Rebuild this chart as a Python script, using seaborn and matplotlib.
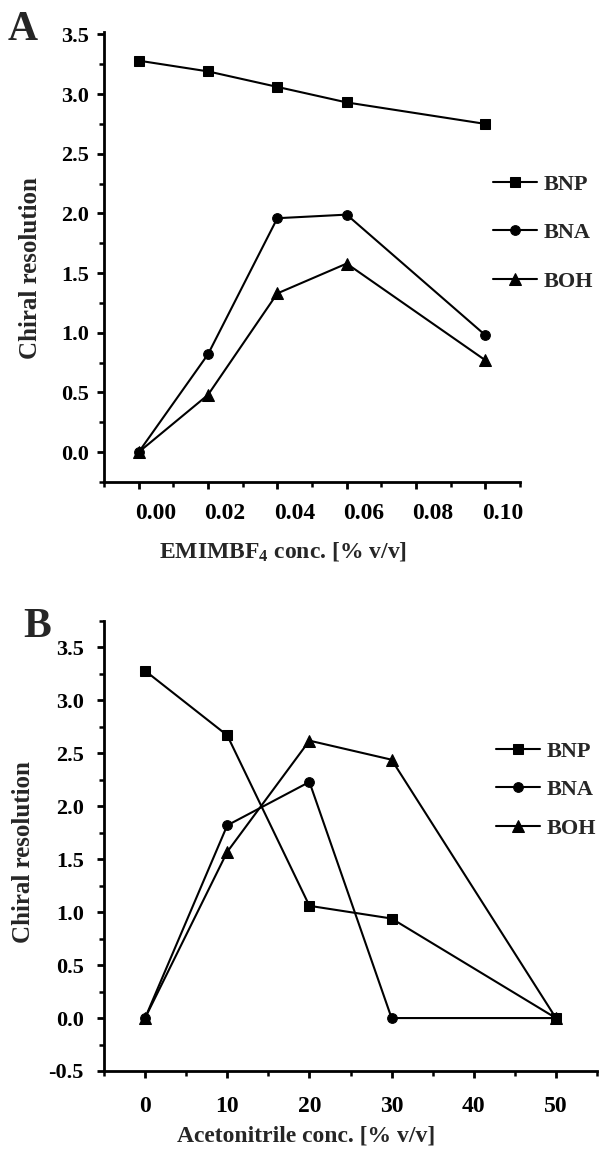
import matplotlib
matplotlib.use("Agg")
import matplotlib.pyplot as plt
import matplotlib.transforms as mtransforms
from matplotlib.ticker import MultipleLocator, FormatStrFormatter
import seaborn as sns
import pandas as pd

# ---- data ----
compounds = ["BNP", "BNA", "BOH"]
emim_conc = [0.00, 0.02, 0.04, 0.06, 0.10]
a_bnp = [3.28, 3.19, 3.06, 2.93, 2.75]
a_bna = [0.00, 0.82, 1.96, 1.99, 0.98]
a_boh = [0.00, 0.48, 1.33, 1.58, 0.77]

acn_conc = [0, 10, 20, 30, 50]
b_bnp = [3.28, 2.67, 1.06, 0.94, 0.00]
b_bna = [0.00, 1.82, 2.23, 0.00, 0.00]
b_boh = [0.00, 1.57, 2.62, 2.44, 0.00]

a_xticks = [0.00, 0.02, 0.04, 0.06, 0.08, 0.10]
b_xticks = [0, 10, 20, 30, 40, 50]

def long_df(x, series):
    rows = []
    for name, ys in zip(compounds, series):
        for xv, yv in zip(x, ys):
            rows.append({"x": xv, "y": yv, "compound": name})
    return pd.DataFrame(rows)

dfA = long_df(emim_conc, [a_bnp, a_bna, a_boh])
dfB = long_df(acn_conc, [b_bnp, b_bna, b_boh])

sns.set_style("ticks")
plt.rcParams["font.family"] = ["Liberation Serif", "DejaVu Serif"]
plt.rcParams["font.weight"] = "bold"
plt.rcParams["axes.labelweight"] = "bold"
plt.rcParams["mathtext.fontset"] = "custom"
plt.rcParams["mathtext.rm"] = "Liberation Serif:bold"
plt.rcParams["mathtext.bf"] = "Liberation Serif:bold"
plt.rcParams["mathtext.it"] = "Liberation Serif:bold"

fig = plt.figure(figsize=(6.0, 11.49), dpi=100)
W, H = 600, 1149
axA = fig.add_axes([104 / W, 1 - 482 / H, 416 / W, 450 / H])
axB = fig.add_axes([104 / W, 1 - 1071 / H, 493 / W, 450 / H])

markers = {"BNP": "s", "BNA": "o", "BOH": "^"}
msizes = {"BNP": 7, "BNA": 7, "BOH": 8.5}

def draw(ax, df):
    sns.lineplot(data=df, x="x", y="y", style="compound", style_order=compounds,
                 markers=markers, dashes=False, color="black", linewidth=1.5,
                 markeredgecolor="black", sort=False, legend=False, ax=ax)
    for line, c in zip(ax.lines, compounds):
        line.set_markersize(msizes[c])
        line.set_markerfacecolor("black")
        line.set_markeredgecolor("black")
        line.set_clip_on(False)
    for s in ["top", "right"]:
        ax.spines[s].set_visible(False)
    for s in ["left", "bottom"]:
        ax.spines[s].set_linewidth(2.0)
        ax.spines[s].set_color("black")
    ax.tick_params(which="major", direction="out", length=5, width=2.0, colors="black")
    ax.tick_params(which="minor", direction="out", length=3.5, width=1.8, colors="black")
    ax.set_facecolor("white")

# Panel A
draw(axA, dfA)
axA.set_xlim(-0.01, 0.11)
axA.set_ylim(-0.25, 3.52)
axA.set_xticks(a_xticks)
axA.xaxis.set_major_formatter(FormatStrFormatter("%.2f"))
axA.xaxis.set_minor_locator(MultipleLocator(0.01))
axA.yaxis.set_major_locator(MultipleLocator(0.5))
axA.yaxis.set_major_formatter(FormatStrFormatter("%.1f"))
axA.yaxis.set_minor_locator(MultipleLocator(0.25))
axA.tick_params(axis="x", which="major", labelsize=17, pad=10)
axA.tick_params(axis="y", which="major", labelsize=16, pad=6)
off = mtransforms.ScaledTranslation(17 / 100, 0, fig.dpi_scale_trans)
for lab in axA.get_xticklabels():
    lab.set_transform(lab.get_transform() + off)
axA.set_xlabel(r"EMIMBF$_{4}$ conc. [% v/v]", fontsize=17, fontweight="bold")
axA.xaxis.set_label_coords(0.43, -0.128)
axA.xaxis.label.set_va("top")
axA.set_ylabel("Chiral resolution", fontsize=18, fontweight="bold")
axA.yaxis.set_label_coords(-0.149, 0.476)

# Panel B
draw(axB, dfB)
axB.set_xlim(-5, 55)
axB.set_ylim(-0.5, 3.75)
axB.set_xticks(b_xticks)
axB.xaxis.set_minor_locator(MultipleLocator(5))
axB.yaxis.set_major_locator(MultipleLocator(0.5))
axB.yaxis.set_major_formatter(FormatStrFormatter("%.1f"))
axB.yaxis.set_minor_locator(MultipleLocator(0.25))
axB.tick_params(axis="x", which="major", labelsize=17, pad=13)
axB.tick_params(axis="y", which="major", labelsize=16, pad=9.5)
axB.set_xlabel("Acetonitrile conc. [% v/v]", fontsize=17, fontweight="bold")
axB.xaxis.set_label_coords(0.41, -0.122)
axB.xaxis.label.set_va("top")
axB.set_ylabel("Chiral resolution", fontsize=18, fontweight="bold")
axB.yaxis.set_label_coords(-0.14, 0.487)

# Legends
def legend(ax, x, y, spacing):
    handles = ax.lines[:3]
    ax.legend(handles, compounds, loc="center left",
              bbox_to_anchor=(x / W, 1 - y / H), bbox_transform=fig.transFigure,
              frameon=False, fontsize=16, handlelength=2.0, handletextpad=0.3,
              labelspacing=spacing, borderpad=0, borderaxespad=0)

legend(axA, 493, 233, 1.25)
legend(axB, 496, 790, 0.8)

fig.text(8 / W, 1 - 40 / H, "A", fontsize=30, fontweight="bold", ha="left", va="baseline")
fig.text(23 / W, 1 - 637 / H, "B", fontsize=30, fontweight="bold", ha="left", va="baseline")

fig.savefig("out.png", dpi=100, facecolor="white")
